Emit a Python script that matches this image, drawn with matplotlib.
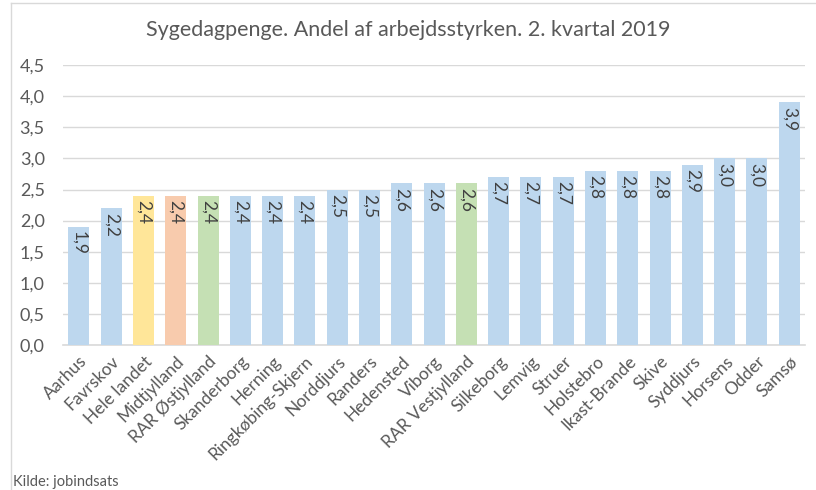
import matplotlib
matplotlib.use("Agg")
import matplotlib.pyplot as plt
from matplotlib.lines import Line2D

categories = ["Aarhus", "Favrskov", "Hele landet", "Midtjylland", "RAR Østjylland",
              "Skanderborg", "Herning", "Ringkøbing-Skjern", "Norddjurs", "Randers",
              "Hedensted", "Viborg", "RAR Vestjylland", "Silkeborg", "Lemvig", "Struer",
              "Holstebro", "Ikast-Brande", "Skive", "Syddjurs", "Horsens", "Odder", "Samsø"]
values = [1.9, 2.2, 2.4, 2.4, 2.4, 2.4, 2.4, 2.4, 2.5, 2.5, 2.6, 2.6, 2.6, 2.7, 2.7, 2.7,
          2.8, 2.8, 2.8, 2.9, 3.0, 3.0, 3.9]
blue, yellow, orange, green = "#BDD7EE", "#FFE699", "#F8CBAD", "#C5E0B4"
special = {"Hele landet": yellow, "Midtjylland": orange,
           "RAR Østjylland": green, "RAR Vestjylland": green}
colors = [special.get(c, blue) for c in categories]
yticks = [0.0, 0.5, 1.0, 1.5, 2.0, 2.5, 3.0, 3.5, 4.0, 4.5]
title = "Sygedagpenge. Andel af arbejdsstyrken. 2. kvartal 2019"
source = "Kilde: jobindsats"

plt.rcParams['font.family'] = ['Lato', 'DejaVu Sans']
txt = "#595959"

fig = plt.figure(figsize=(8.16, 4.90), dpi=100)
ax = fig.add_axes([0.077, 0.296, 0.910, 0.571])
x = list(range(len(categories)))
bars = ax.bar(x, values, width=0.65, color=colors, zorder=3)
for xi, v in zip(x, values):
    ax.text(xi, v - 0.07, f"{v:.1f}".replace(".", ","), rotation=-90,
            ha="center", va="top", fontsize=12.5, color="#404040", zorder=4)

ax.set_ylim(0, 4.5)
ax.set_xlim(-0.5, len(categories) - 0.5)
ax.set_yticks(yticks)
ax.set_yticklabels([f"{t:.1f}".replace(".", ",") for t in yticks], fontsize=13, color=txt)
ax.set_xticks(x)
ax.set_xticklabels(categories, rotation=45, ha="right", rotation_mode="anchor",
                   fontsize=12.5, color=txt)
ax.tick_params(axis="both", length=0)
ax.tick_params(axis="y", pad=13)
ax.tick_params(axis="x", pad=6)
ax.grid(axis="y", color="#D9D9D9", linewidth=1, zorder=0)
for s in ["top", "right", "left"]:
    ax.spines[s].set_visible(False)
ax.spines["bottom"].set_color("#D9D9D9")
ax.spines["bottom"].set_linewidth(1.2)

fig.text(0.5, 0.938, title, ha="center", va="center", fontsize=15.5, color=txt)
fig.text(0.016, 0.002, source, ha="left", va="bottom", fontsize=10.5, color=txt)

fig.add_artist(Line2D([11/816, 11/816], [0, 1 - 3/490], transform=fig.transFigure,
                      color="#D9D9D9", lw=1))
fig.add_artist(Line2D([11/816, 1], [1 - 3/490, 1 - 3/490], transform=fig.transFigure,
                      color="#D9D9D9", lw=1))

fig.savefig("out.png", dpi=100, facecolor="white")
